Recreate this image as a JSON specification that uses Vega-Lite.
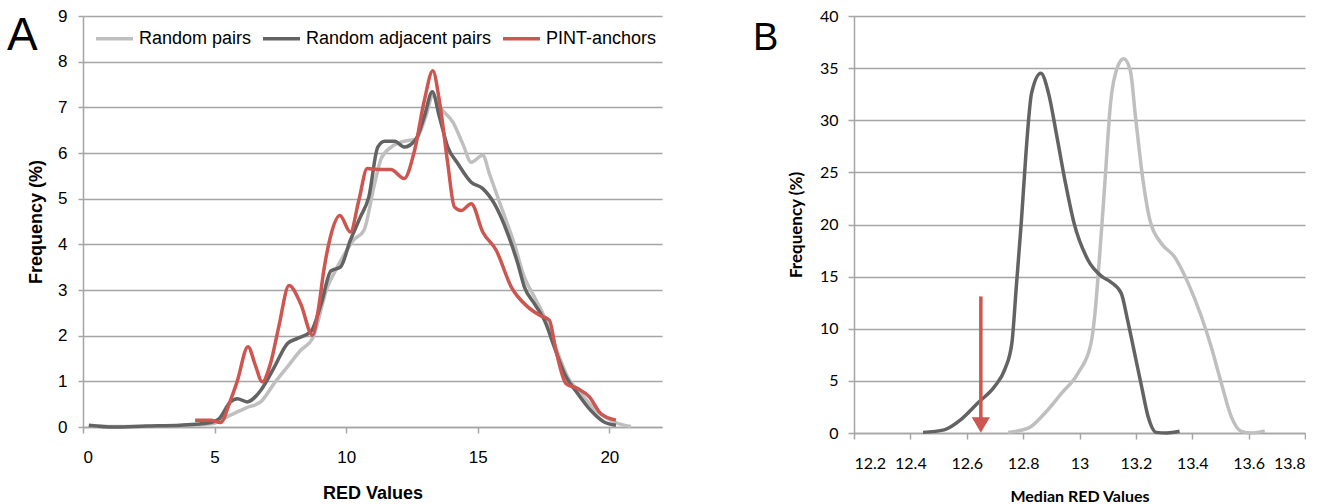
{
  "$schema": "https://vega.github.io/schema/vega-lite/v6.json",
  "background": "white",
  "padding": {"left": 6, "top": 7, "right": 0, "bottom": 0},
  "config": {
    "view": {"stroke": null},
    "concat": {"spacing": 91},
    "axis": {
      "gridColor": "#A5A5A5", "gridWidth": 1.5, "gridOpacity": 1,
      "domainColor": "#A5A5A5", "domainWidth": 1.5,
      "tickColor": "#A5A5A5", "tickWidth": 1.5,
      "labelColor": "#000000", "titleColor": "#000000"
    }
  },
  "datasets": {
    "a": [
      {"series": "Random pairs", "x": 0.3, "y": 0.02},
      {"series": "Random pairs", "x": 1.0, "y": 0.01},
      {"series": "Random pairs", "x": 2.0, "y": 0.01},
      {"series": "Random pairs", "x": 3.0, "y": 0.02},
      {"series": "Random pairs", "x": 4.0, "y": 0.04},
      {"series": "Random pairs", "x": 4.9, "y": 0.07},
      {"series": "Random pairs", "x": 5.6, "y": 0.26},
      {"series": "Random pairs", "x": 6.2, "y": 0.42},
      {"series": "Random pairs", "x": 6.75, "y": 0.55},
      {"series": "Random pairs", "x": 7.26, "y": 0.95},
      {"series": "Random pairs", "x": 7.77, "y": 1.32},
      {"series": "Random pairs", "x": 8.27, "y": 1.68},
      {"series": "Random pairs", "x": 8.72, "y": 1.94},
      {"series": "Random pairs", "x": 9.28, "y": 3.05},
      {"series": "Random pairs", "x": 9.66, "y": 3.5},
      {"series": "Random pairs", "x": 10.29, "y": 4.1},
      {"series": "Random pairs", "x": 10.67, "y": 4.3},
      {"series": "Random pairs", "x": 11.08, "y": 5.33},
      {"series": "Random pairs", "x": 11.33, "y": 5.88},
      {"series": "Random pairs", "x": 11.71, "y": 6.13},
      {"series": "Random pairs", "x": 12.22, "y": 6.26},
      {"series": "Random pairs", "x": 12.66, "y": 6.31},
      {"series": "Random pairs", "x": 13.04, "y": 6.83},
      {"series": "Random pairs", "x": 13.29, "y": 7.26},
      {"series": "Random pairs", "x": 13.61, "y": 6.97},
      {"series": "Random pairs", "x": 14.05, "y": 6.68},
      {"series": "Random pairs", "x": 14.43, "y": 6.2},
      {"series": "Random pairs", "x": 14.75, "y": 5.8},
      {"series": "Random pairs", "x": 15.19, "y": 5.95},
      {"series": "Random pairs", "x": 15.44, "y": 5.55},
      {"series": "Random pairs", "x": 15.89, "y": 4.82},
      {"series": "Random pairs", "x": 16.39, "y": 4.01},
      {"series": "Random pairs", "x": 16.77, "y": 3.28},
      {"series": "Random pairs", "x": 17.15, "y": 2.85},
      {"series": "Random pairs", "x": 17.53, "y": 2.41},
      {"series": "Random pairs", "x": 17.91, "y": 1.82},
      {"series": "Random pairs", "x": 18.42, "y": 1.09},
      {"series": "Random pairs", "x": 18.92, "y": 0.73},
      {"series": "Random pairs", "x": 19.56, "y": 0.33},
      {"series": "Random pairs", "x": 20.19, "y": 0.11},
      {"series": "Random pairs", "x": 20.82, "y": 0.01},

      {"series": "Random adjacent pairs", "x": 0.22, "y": 0.04},
      {"series": "Random adjacent pairs", "x": 1.17, "y": 0.0},
      {"series": "Random adjacent pairs", "x": 2.4, "y": 0.02},
      {"series": "Random adjacent pairs", "x": 3.7, "y": 0.04},
      {"series": "Random adjacent pairs", "x": 4.85, "y": 0.1},
      {"series": "Random adjacent pairs", "x": 5.17, "y": 0.18},
      {"series": "Random adjacent pairs", "x": 5.6, "y": 0.55},
      {"series": "Random adjacent pairs", "x": 5.86, "y": 0.62},
      {"series": "Random adjacent pairs", "x": 6.24, "y": 0.55},
      {"series": "Random adjacent pairs", "x": 6.75, "y": 0.8},
      {"series": "Random adjacent pairs", "x": 7.26, "y": 1.3},
      {"series": "Random adjacent pairs", "x": 7.77, "y": 1.83},
      {"series": "Random adjacent pairs", "x": 8.15, "y": 1.94},
      {"series": "Random adjacent pairs", "x": 8.66, "y": 2.09},
      {"series": "Random adjacent pairs", "x": 9.05, "y": 2.7},
      {"series": "Random adjacent pairs", "x": 9.42, "y": 3.42},
      {"series": "Random adjacent pairs", "x": 9.78, "y": 3.5},
      {"series": "Random adjacent pairs", "x": 10.16, "y": 4.09},
      {"series": "Random adjacent pairs", "x": 10.54, "y": 4.6},
      {"series": "Random adjacent pairs", "x": 10.86, "y": 5.04},
      {"series": "Random adjacent pairs", "x": 11.2, "y": 6.13},
      {"series": "Random adjacent pairs", "x": 11.46, "y": 6.26},
      {"series": "Random adjacent pairs", "x": 11.84, "y": 6.26},
      {"series": "Random adjacent pairs", "x": 12.2, "y": 6.13},
      {"series": "Random adjacent pairs", "x": 12.66, "y": 6.31},
      {"series": "Random adjacent pairs", "x": 12.97, "y": 6.8},
      {"series": "Random adjacent pairs", "x": 13.27, "y": 7.34},
      {"series": "Random adjacent pairs", "x": 13.54, "y": 6.8},
      {"series": "Random adjacent pairs", "x": 13.86, "y": 6.13},
      {"series": "Random adjacent pairs", "x": 14.24, "y": 5.77},
      {"series": "Random adjacent pairs", "x": 14.75, "y": 5.36},
      {"series": "Random adjacent pairs", "x": 15.19, "y": 5.22},
      {"series": "Random adjacent pairs", "x": 15.63, "y": 4.89},
      {"series": "Random adjacent pairs", "x": 16.14, "y": 4.23},
      {"series": "Random adjacent pairs", "x": 16.52, "y": 3.58},
      {"series": "Random adjacent pairs", "x": 16.77, "y": 3.07},
      {"series": "Random adjacent pairs", "x": 17.15, "y": 2.7},
      {"series": "Random adjacent pairs", "x": 17.53, "y": 2.34},
      {"series": "Random adjacent pairs", "x": 17.91, "y": 1.75},
      {"series": "Random adjacent pairs", "x": 18.29, "y": 1.17},
      {"series": "Random adjacent pairs", "x": 18.8, "y": 0.73},
      {"series": "Random adjacent pairs", "x": 19.3, "y": 0.36},
      {"series": "Random adjacent pairs", "x": 19.8, "y": 0.11},
      {"series": "Random adjacent pairs", "x": 20.25, "y": 0.04},

      {"series": "PINT-anchors", "x": 4.26, "y": 0.15},
      {"series": "PINT-anchors", "x": 4.85, "y": 0.15},
      {"series": "PINT-anchors", "x": 5.23, "y": 0.1},
      {"series": "PINT-anchors", "x": 5.6, "y": 0.58},
      {"series": "PINT-anchors", "x": 5.86, "y": 1.0},
      {"series": "PINT-anchors", "x": 6.27, "y": 1.76},
      {"series": "PINT-anchors", "x": 6.55, "y": 1.35},
      {"series": "PINT-anchors", "x": 6.81, "y": 0.99},
      {"series": "PINT-anchors", "x": 7.13, "y": 1.4},
      {"series": "PINT-anchors", "x": 7.44, "y": 2.2},
      {"series": "PINT-anchors", "x": 7.83, "y": 3.1},
      {"series": "PINT-anchors", "x": 8.27, "y": 2.7},
      {"series": "PINT-anchors", "x": 8.72, "y": 2.01},
      {"series": "PINT-anchors", "x": 8.95, "y": 2.6},
      {"series": "PINT-anchors", "x": 9.15, "y": 3.43},
      {"series": "PINT-anchors", "x": 9.4, "y": 4.16},
      {"series": "PINT-anchors", "x": 9.76, "y": 4.63},
      {"series": "PINT-anchors", "x": 10.16, "y": 4.27},
      {"series": "PINT-anchors", "x": 10.48, "y": 4.96},
      {"series": "PINT-anchors", "x": 10.8, "y": 5.66},
      {"series": "PINT-anchors", "x": 11.2, "y": 5.64},
      {"series": "PINT-anchors", "x": 11.7, "y": 5.64},
      {"series": "PINT-anchors", "x": 12.2, "y": 5.44},
      {"series": "PINT-anchors", "x": 12.6, "y": 6.06},
      {"series": "PINT-anchors", "x": 12.97, "y": 7.15},
      {"series": "PINT-anchors", "x": 13.29, "y": 7.8},
      {"series": "PINT-anchors", "x": 13.54, "y": 7.15},
      {"series": "PINT-anchors", "x": 13.86, "y": 5.77},
      {"series": "PINT-anchors", "x": 14.11, "y": 4.82},
      {"series": "PINT-anchors", "x": 14.37, "y": 4.74},
      {"series": "PINT-anchors", "x": 14.75, "y": 4.89},
      {"series": "PINT-anchors", "x": 15.19, "y": 4.27},
      {"series": "PINT-anchors", "x": 15.7, "y": 3.87},
      {"series": "PINT-anchors", "x": 16.27, "y": 3.07},
      {"series": "PINT-anchors", "x": 16.9, "y": 2.63},
      {"series": "PINT-anchors", "x": 17.34, "y": 2.45},
      {"series": "PINT-anchors", "x": 17.72, "y": 2.34},
      {"series": "PINT-anchors", "x": 17.97, "y": 1.68},
      {"series": "PINT-anchors", "x": 18.35, "y": 0.95},
      {"series": "PINT-anchors", "x": 18.8, "y": 0.84},
      {"series": "PINT-anchors", "x": 19.24, "y": 0.66},
      {"series": "PINT-anchors", "x": 19.68, "y": 0.29},
      {"series": "PINT-anchors", "x": 20.25, "y": 0.15}
    ],
    "b": [
      {"series": "Random pairs", "x": 12.747, "y": 0.06},
      {"series": "Random pairs", "x": 12.82, "y": 0.5},
      {"series": "Random pairs", "x": 12.877, "y": 1.9},
      {"series": "Random pairs", "x": 12.936, "y": 3.8},
      {"series": "Random pairs", "x": 12.995, "y": 5.75},
      {"series": "Random pairs", "x": 13.04, "y": 8.5},
      {"series": "Random pairs", "x": 13.055, "y": 11.5},
      {"series": "Random pairs", "x": 13.07, "y": 16.5},
      {"series": "Random pairs", "x": 13.089, "y": 23.6},
      {"series": "Random pairs", "x": 13.11, "y": 31.6},
      {"series": "Random pairs", "x": 13.136, "y": 35.2},
      {"series": "Random pairs", "x": 13.157, "y": 35.9},
      {"series": "Random pairs", "x": 13.18, "y": 34.8},
      {"series": "Random pairs", "x": 13.2, "y": 30.0},
      {"series": "Random pairs", "x": 13.225, "y": 24.3},
      {"series": "Random pairs", "x": 13.25, "y": 20.4},
      {"series": "Random pairs", "x": 13.29, "y": 18.2},
      {"series": "Random pairs", "x": 13.337, "y": 16.9},
      {"series": "Random pairs", "x": 13.385, "y": 14.4},
      {"series": "Random pairs", "x": 13.432, "y": 11.2},
      {"series": "Random pairs", "x": 13.467, "y": 8.3},
      {"series": "Random pairs", "x": 13.503, "y": 4.8},
      {"series": "Random pairs", "x": 13.538, "y": 1.6},
      {"series": "Random pairs", "x": 13.574, "y": 0.16},
      {"series": "Random pairs", "x": 13.61, "y": 0.0},
      {"series": "Random pairs", "x": 13.657, "y": 0.2},

      {"series": "Random adjacent pairs", "x": 12.445, "y": 0.06},
      {"series": "Random adjacent pairs", "x": 12.52, "y": 0.3},
      {"series": "Random adjacent pairs", "x": 12.58, "y": 1.3},
      {"series": "Random adjacent pairs", "x": 12.64, "y": 2.9},
      {"series": "Random adjacent pairs", "x": 12.7, "y": 4.5},
      {"series": "Random adjacent pairs", "x": 12.735, "y": 6.1},
      {"series": "Random adjacent pairs", "x": 12.76, "y": 8.6},
      {"series": "Random adjacent pairs", "x": 12.776, "y": 14.1},
      {"series": "Random adjacent pairs", "x": 12.794, "y": 20.4},
      {"series": "Random adjacent pairs", "x": 12.81, "y": 26.8},
      {"series": "Random adjacent pairs", "x": 12.83, "y": 32.6},
      {"series": "Random adjacent pairs", "x": 12.863, "y": 34.5},
      {"series": "Random adjacent pairs", "x": 12.89, "y": 32.6},
      {"series": "Random adjacent pairs", "x": 12.92, "y": 28.4},
      {"series": "Random adjacent pairs", "x": 12.95, "y": 24.0},
      {"series": "Random adjacent pairs", "x": 12.98, "y": 20.2},
      {"series": "Random adjacent pairs", "x": 13.03, "y": 16.6},
      {"series": "Random adjacent pairs", "x": 13.08, "y": 15.0},
      {"series": "Random adjacent pairs", "x": 13.11, "y": 14.5},
      {"series": "Random adjacent pairs", "x": 13.148, "y": 13.4},
      {"series": "Random adjacent pairs", "x": 13.17, "y": 10.9},
      {"series": "Random adjacent pairs", "x": 13.195, "y": 7.7},
      {"series": "Random adjacent pairs", "x": 13.22, "y": 4.5},
      {"series": "Random adjacent pairs", "x": 13.243, "y": 1.6},
      {"series": "Random adjacent pairs", "x": 13.272, "y": 0.06},
      {"series": "Random adjacent pairs", "x": 13.31, "y": 0.0},
      {"series": "Random adjacent pairs", "x": 13.355, "y": 0.16}
    ],
    "arrow": [
      {"x": 12.65, "from": 13.1, "to": 0}
    ],
    "labelA": [{"panel": "A", "x": -2.89, "y": 9.05}],
    "labelB": [{"panel": "B", "x": 11.842, "y": 39.6}]
  },
  "hconcat": [
    {
      "width": 579,
      "height": 411,
      "encoding": {
        "x": {"field": "x", "type": "quantitative",
          "scale": {"domain": [0, 22], "nice": false, "zero": false},
          "axis": {"values": [0, 5, 10, 15, 20], "format": "d", "title": "RED Values", "grid": false, "tickSize": 6, "labelPadding": 16,
            "labelFont": "Liberation Sans", "labelFontSize": 17, "titleFont": "Liberation Sans", "titleFontSize": 18, "titleFontWeight": "bold", "titlePadding": 19}},
        "y": {"field": "y", "type": "quantitative",
          "scale": {"domain": [0, 9], "nice": false},
          "axis": {"values": [0, 1, 2, 3, 4, 5, 6, 7, 8, 9], "format": "d", "title": "Frequency (%)", "grid": true, "tickSize": 5, "labelPadding": 11,
            "labelFont": "Liberation Sans", "labelFontSize": 17, "titleFont": "Liberation Sans", "titleFontSize": 18, "titleFontWeight": "bold", "titlePadding": 12}}
      },
      "layer": [
        {
          "data": {"name": "a"},
          "mark": {"type": "line", "interpolate": "monotone", "strokeWidth": 3.5},
          "encoding": {
            "color": {"field": "series", "type": "nominal",
              "scale": {"domain": ["Random pairs", "Random adjacent pairs", "PINT-anchors"], "range": ["#BFBFBF", "#636363", "#CD5650"]},
              "legend": {"title": null, "orient": "none", "legendX": 11, "legendY": 2, "direction": "horizontal", "columns": 3,
                "symbolType": "stroke", "symbolSize": 1369, "symbolStrokeWidth": 3.5, "labelFont": "Liberation Sans", "labelFontSize": 18,
                "labelColor": "#000000", "labelOffset": 4, "columnPadding": 4, "padding": 0, "labelLimit": 400}}
          }
        },
        {
          "data": {"name": "labelA"},
          "mark": {"type": "text", "font": "Liberation Sans", "fontSize": 46, "align": "left", "baseline": "top", "color": "#000000"},
          "encoding": {"text": {"field": "panel"}}
        }
      ]
    },
    {
      "width": 451,
      "height": 417,
      "encoding": {
        "x": {"field": "x", "type": "quantitative",
          "scale": {"domain": [12.2, 13.8], "nice": false, "zero": false},
          "axis": {"values": [12.2, 12.4, 12.6, 12.8, 13, 13.2, 13.4, 13.6, 13.8], "format": "~g", "title": "Median RED Values", "grid": false, "tickSize": 6, "labelPadding": 16,
            "labelFont": "Lato", "labelFontSize": 16, "titleFont": "Lato", "titleFontSize": 16, "titleFontWeight": "bold", "titlePadding": 17}},
        "y": {"field": "y", "type": "quantitative",
          "scale": {"domain": [0, 40], "nice": false},
          "axis": {"values": [0, 5, 10, 15, 20, 25, 30, 35, 40], "format": "d", "title": "Frequency (%)", "grid": true, "tickSize": 6, "labelPadding": 10,
            "labelFont": "Lato", "labelFontSize": 16, "titleFont": "Lato", "titleFontSize": 17, "titleFontWeight": "bold", "titlePadding": 14}}
      },
      "layer": [
        {
          "data": {"name": "b"},
          "mark": {"type": "line", "interpolate": "monotone", "strokeWidth": 3.5},
          "encoding": {
            "color": {"field": "series", "type": "nominal",
              "scale": {"domain": ["Random pairs", "Random adjacent pairs"], "range": ["#BFBFBF", "#636363"]},
              "legend": null}
          }
        },
        {
          "data": {"name": "arrow"},
          "mark": {"type": "rule", "color": "#CD5650", "strokeWidth": 3.5, "y2Offset": -10},
          "encoding": {
            "y": {"field": "from", "type": "quantitative"},
            "y2": {"field": "to"}
          }
        },
        {
          "data": {"name": "arrow"},
          "mark": {"type": "point", "shape": "triangle-down", "filled": true, "size": 330, "color": "#CD5650", "opacity": 1, "yOffset": -8},
          "encoding": {
            "y": {"field": "to", "type": "quantitative"}
          }
        },
        {
          "data": {"name": "labelB"},
          "mark": {"type": "text", "font": "Liberation Sans", "fontSize": 38, "align": "left", "baseline": "top", "color": "#000000"},
          "encoding": {"text": {"field": "panel"}}
        }
      ]
    }
  ],
  "resolve": {"scale": {"color": "independent"}, "legend": {"color": "independent"}}
}
